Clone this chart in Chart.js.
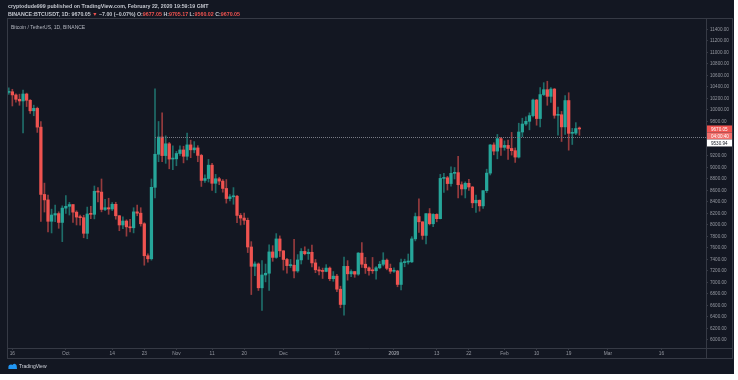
<!DOCTYPE html>
<html>
<head>
<meta charset="utf-8">
<script src="https://cdn.jsdelivr.net/npm/chart.js@4"></script>
<style>
  html, body { margin: 0; padding: 0; background: #ffffff; }
  #wrap { width: 738px; height: 380px; }
</style>
</head>
<body>
<div id="wrap"><canvas id="chart" width="738" height="380"></canvas></div>
<script>
// daily candles, BINANCE:BTCUSDT, 2019-09-15 .. 2020-02-22
const firstDay = "2019-09-15";
const totalDays = 196; // axis runs on to late March

const opens = [
  10306, 10317, 10262, 10186, 10157, 10278, 10169, 9986, 10028, 9702, 8531, 8436, 8064, 8173, 8198, 8044,
  8293, 8325, 8355, 8223, 8137, 8127, 7855, 8191, 8185, 8586, 8572, 8270, 8300, 8278, 8359, 8160, 8000, 8068, 7967, 7951, 8228, 8205, 8021, 7465, 7412, 8655, 9230, 9530, 9207, 9412, 9146,
  9150, 9243, 9305, 9195, 9393, 9307, 9340, 9210, 8775, 8808, 9040, 8725, 8804, 8763, 8635, 8460, 8490, 8500, 8166, 8120, 8081, 7617, 7281, 7322, 6907, 7130, 7160, 7531, 7436, 7757,
  7550, 7400, 7293, 7300, 7200, 7392, 7540, 7500, 7525, 7340, 7220, 7200, 7192, 7250, 7065, 7110, 6883, 6617, 7280, 7150, 7190, 7145, 7511, 7317, 7255, 7204, 7203, 7255, 7316, 7388, 7246,
  7195, 7200, 6965, 7345, 7355, 7358, 7758, 8146, 8055, 7818, 8197, 8021, 8184, 8110, 8810, 8821, 8720, 8898, 8910, 8700, 8627, 8725, 8660, 8385, 8430, 8332, 8597, 8902, 9392, 9285, 9502,
  9350, 9384, 9331, 9292, 9181, 9617, 9756, 9803, 9902, 10173, 9851, 10268, 10353, 10237, 10364, 9907, 9917, 9706, 10164, 9594, 9597, 9677.05
];
const highs = [
  10385, 10360, 10279, 10275, 10348, 10293, 10180, 10084, 10050, 9798, 8728, 8520, 8275, 8345, 8229, 8333,
  8512, 8393, 8355, 8247, 8174, 8169, 8311, 8325, 8678, 8650, 8800, 8445, 8465, 8390, 8395, 8165, 8142, 8090, 8100, 8300, 8346, 8300, 8040, 7500, 8800, 10370, 9800, 9950, 9550, 9435, 9375,
  9280, 9375, 9370, 9600, 9475, 9450, 9380, 9230, 8870, 9140, 9070, 8880, 8830, 8790, 8790, 8530, 8650, 8515, 8200, 8205, 8120, 7710, 7357, 7340, 7380, 7320, 7655, 7640, 7850, 7810,
  7555, 7420, 7400, 7750, 7485, 7590, 7620, 7580, 7650, 7400, 7270, 7250, 7310, 7270, 7190, 7140, 6935, 7440, 7380, 7220, 7190, 7520, 7695, 7436, 7271, 7435, 7275, 7365, 7518, 7409, 7320,
  7255, 7212, 7405, 7405, 7495, 7796, 8208, 8456, 8055, 8200, 8286, 8197, 8196, 8880, 8900, 8846, 9010, 9000, 9195, 8750, 8750, 8792, 8670, 8520, 8435, 8600, 8970, 9400, 9430, 9575, 9525,
  9463, 9475, 9610, 9340, 9770, 9857, 9880, 9950, 10190, 10185, 10390, 10475, 10500, 10390, 10375, 10050, 9975, 10250, 10300, 9680, 9780, 9705.17
];
const lows = [
  10272, 10070, 10135, 10082, 9600, 10060, 9940, 9900, 9610, 8060, 8225, 7880, 7861, 8057, 7942, 7710,
  8203, 8173, 8045, 8000, 7998, 7777, 7760, 8110, 8106, 8400, 8228, 8250, 8185, 8250, 8100, 7900, 7935, 7805, 7880, 7862, 8160, 7980, 7300, 7355, 7388, 8470, 9100, 9100, 9072, 8977, 8960,
  9030, 9210, 9080, 9132, 9170, 9255, 9100, 8670, 8740, 8747, 8600, 8560, 8700, 8570, 8380, 8420, 8360, 8040, 8000, 8010, 7520, 6790, 7117, 6860, 6515, 7010, 6860, 7368, 7420, 7450,
  7215, 7160, 7260, 7080, 7175, 7321, 7480, 7400, 7270, 7170, 7130, 7070, 7185, 7030, 7020, 6840, 6560, 6430, 7040, 7100, 7090, 7125, 7260, 7157, 7128, 7157, 7057, 7238, 7288, 7220, 7157,
  7175, 6925, 6871, 7273, 7319, 7346, 7723, 7871, 7750, 7672, 8000, 7970, 8055, 8105, 8565, 8607, 8675, 8800, 8470, 8520, 8470, 8600, 8300, 8220, 8240, 8290, 8563, 8870, 9220, 9150, 9210,
  9300, 9140, 9215, 9088, 9165, 9535, 9730, 9655, 9880, 9735, 9705, 10250, 10082, 10130, 9856, 9560, 9452, 9576, 9301, 9400, 9570, 9560.02
];
const closes = [
  10317, 10262, 10186, 10157, 10278, 10169, 9986, 10028, 9702, 8531, 8436, 8064, 8173, 8198, 8044, 8293,
  8325, 8355, 8223, 8137, 8127, 7855, 8191, 8185, 8586, 8572, 8270, 8300, 8278, 8359, 8160, 8000, 8068, 7967, 7951, 8228, 8205, 8021, 7465, 7412, 8655, 9230, 9530, 9207, 9412, 9146, 9150,
  9243, 9305, 9195, 9393, 9307, 9340, 9210, 8775, 8808, 9040, 8725, 8804, 8763, 8635, 8460, 8490, 8500, 8166, 8120, 8081, 7617, 7281, 7322, 6907, 7130, 7160, 7531, 7436, 7757, 7550,
  7400, 7293, 7300, 7200, 7392, 7540, 7500, 7525, 7340, 7220, 7200, 7192, 7250, 7065, 7110, 6883, 6617, 7280, 7150, 7190, 7145, 7511, 7317, 7255, 7204, 7203, 7255, 7316, 7388, 7246, 7195,
  7200, 6965, 7345, 7355, 7358, 7758, 8146, 8055, 7818, 8197, 8021, 8184, 8110, 8810, 8821, 8720, 8898, 8910, 8700, 8627, 8725, 8660, 8385, 8430, 8332, 8597, 8902, 9392, 9285, 9502, 9350,
  9384, 9331, 9292, 9181, 9617, 9756, 9803, 9902, 10173, 9851, 10268, 10353, 10237, 10364, 9907, 9917, 9706, 10164, 9594, 9597, 9677, 9670.05
];

const priceTicks = [6000, 6200, 6400, 6600, 6800, 7000, 7200, 7400, 7600, 7800, 8000, 8200, 8400, 8600,
  8800, 9000, 9200, 9800, 10000, 10200, 10400, 10600, 10800, 11000, 11200, 11400];

const timeTickDates = ["2019-09-16", "2019-10-01", "2019-10-14", "2019-10-23", "2019-11-01", "2019-11-11",
  "2019-11-20", "2019-12-01", "2019-12-16", "2020-01-01", "2020-01-13", "2020-01-22", "2020-02-01",
  "2020-02-10", "2020-02-19", "2020-03-01", "2020-03-16"];
const timeTickLabels = ["16", "Oct", "14", "23", "Nov", "11", "20", "Dec", "16", "2020", "13", "22", "Feb",
  "10", "19", "Mar", "16"];

const levelStart = "2019-10-26";
const levelPrice = 9530.94;
const lastPrice = 9670.05;
const countdown = "04:00:40";

const headerLine1 = "cryptodude999 published on TradingView.com, February 22, 2020 19:59:19 GMT";
const symbolTitle = "Bitcoin / TetherUS, 1D, BINANCE";

const UP = "#26a69a", DOWN = "#ef5350";
const UP_WICK = "rgba(38,166,154,0.6)", DOWN_WICK = "rgba(239,83,80,0.6)";
const BG = "#131722", LINE = "#363a45", TEXT = "#9598a1";
const FONT = "'Liberation Sans', Arial, sans-serif";

// day labels
const days = [];
const d0 = new Date(firstDay + "T00:00:00Z");
for (let i = 0; i < totalDays; i++) {
  const d = new Date(d0.getTime() + i * 86400000);
  days.push(d.toISOString().slice(0, 10));
}
const tickMap = {};
timeTickDates.forEach((d, i) => { tickMap[d] = timeTickLabels[i]; });

const bodies = [], wicks = [], bodyColors = [], wickColors = [];
for (let i = 0; i < totalDays; i++) {
  if (i < closes.length) {
    const o = opens[i], c = closes[i];
    bodies.push([Math.min(o, c), Math.max(o, c)]);
    wicks.push([lows[i], highs[i]]);
    bodyColors.push(c >= o ? UP : DOWN);
    wickColors.push(c >= o ? UP_WICK : DOWN_WICK);
  } else {
    bodies.push(null);
    wicks.push(null);
    bodyColors.push(UP);
    wickColors.push(UP_WICK);
  }
}

const frame = {
  id: "frame",
  beforeDraw(chart) {
    const ctx = chart.ctx;
    ctx.save();
    ctx.fillStyle = "#ffffff";
    ctx.fillRect(0, 0, chart.width, chart.height);
    ctx.fillStyle = BG;
    ctx.fillRect(0, 0, 734, 374);
    ctx.restore();
  },
  afterDatasetsDraw(chart) {
    const ctx = chart.ctx;
    const a = chart.chartArea;
    const x = chart.scales.x, y = chart.scales.y;
    ctx.save();
    // horizontal level
    const ly = Math.round(y.getPixelForValue(levelPrice)) + 0.5;
    ctx.strokeStyle = "#787b86";
    ctx.lineWidth = 1;
    ctx.setLineDash([1, 1]);
    ctx.beginPath();
    ctx.moveTo(x.getPixelForValue(days.indexOf(levelStart)), ly);
    ctx.lineTo(a.right, ly);
    ctx.stroke();
    ctx.setLineDash([]);
    ctx.restore();
  },
  afterDraw(chart) {
    const ctx = chart.ctx;
    const a = chart.chartArea;
    const y = chart.scales.y;
    ctx.save();
    // pane borders
    ctx.strokeStyle = LINE;
    ctx.lineWidth = 1;
    ctx.strokeRect(7.5, 18.5, 725, 340);
    ctx.beginPath();
    ctx.moveTo(a.right + 0.5, 18);
    ctx.lineTo(a.right + 0.5, 358);
    ctx.moveTo(7, a.bottom + 0.5);
    ctx.lineTo(732, a.bottom + 0.5);
    ctx.stroke();

    // header
    ctx.textBaseline = "middle";
    ctx.textAlign = "left";
    ctx.font = "bold 5.3px " + FONT;
    ctx.fillStyle = "#c3c6ce";
    ctx.fillText(headerLine1, 8, 7);
    const parts = [
      ["BINANCE:BTCUSDT, 1D: 9670.05 ", "#c3c6ce"], ["\u25BC", DOWN], [" \u22127.00 (\u22120.07%) O:", "#c3c6ce"],
      ["9677.05", DOWN], [" H:", "#c3c6ce"], ["9705.17", DOWN], [" L:", "#c3c6ce"], ["9560.02", DOWN],
      [" C:", "#c3c6ce"], ["9670.05", DOWN]
    ];
    let px = 8;
    for (const [t, c] of parts) {
      ctx.fillStyle = c;
      ctx.fillText(t, px, 15);
      px += ctx.measureText(t).width;
    }
    ctx.font = "5px " + FONT;
    ctx.fillStyle = "#b2b5be";
    ctx.fillText(symbolTitle, 11, 28);

    // price labels on axis (stacked so they do not overlap, as TradingView does)
    const p0 = y.getPixelForValue(lastPrice);
    const boxes = [
      [p0, lastPrice.toFixed(2), DOWN, "#ffffff"],
      [p0 + 7, countdown, "#f0706d", "#ffffff"],
      [p0 + 14, levelPrice.toFixed(2), "#ffffff", "#131722"]
    ];
    ctx.font = "4.6px " + FONT;
    for (const [cy, t, bg, fg] of boxes) {
      ctx.fillStyle = bg;
      ctx.fillRect(a.right + 1, cy - 3.5, 25, 7);
      ctx.fillStyle = fg;
      ctx.fillText(t, a.right + 5, cy + 0.3);
    }

    // logo
    ctx.fillStyle = "#2196f3";
    ctx.beginPath();
    ctx.arc(11, 367, 2.6, Math.PI, 0);
    ctx.arc(14.5, 366, 2.2, Math.PI * 1.1, 0);
    ctx.lineTo(17, 369);
    ctx.lineTo(8.4, 369);
    ctx.closePath();
    ctx.fill();
    ctx.font = "5px " + FONT;
    ctx.fillStyle = "#d1d4dc";
    ctx.fillText("TradingView", 19, 366.5);
    ctx.restore();
  }
};

new Chart(document.getElementById("chart"), {
  type: "bar",
  data: {
    labels: days,
    datasets: [
      {
        label: "body",
        data: bodies,
        backgroundColor: bodyColors,
        barThickness: 2.6,
        minBarLength: 1,
        grouped: false
      },
      {
        label: "wick",
        data: wicks,
        backgroundColor: wickColors,
        barThickness: 1,
        grouped: false
      }
    ]
  },
  options: {
    responsive: false,
    animation: false,
    events: [],
    layout: { padding: { left: 7, top: 18, right: 6, bottom: 22 } },
    plugins: { legend: { display: false }, tooltip: { enabled: false } },
    scales: {
      x: {
        type: "category",
        offset: true,
        afterFit: (s) => { s.height = 10; },
        border: { display: false },
        grid: { display: true, offset: false, drawOnChartArea: false, drawTicks: true, tickLength: 2, color: LINE },
        ticks: {
          autoSkip: false,
          maxRotation: 0,
          padding: 1,
          color: TEXT,
          font: (c) => ({ family: FONT, size: 4.8, weight: c.tick && c.tick.label === "2020" ? "bold" : "normal" }),
          callback: function (value) {
            const lbl = tickMap[this.getLabelForValue(value)];
            return lbl === undefined ? null : lbl;
          }
        }
      },
      y: {
        position: "right",
        min: 5860,
        max: 11600,
        afterFit: (s) => { s.width = 26; },
        afterBuildTicks: (s) => { s.ticks = priceTicks.map((v) => ({ value: v })); },
        border: { display: false },
        grid: { display: true, drawOnChartArea: false, drawTicks: true, tickLength: 2, color: LINE },
        ticks: {
          padding: 2,
          color: TEXT,
          font: { family: FONT, size: 4.6 },
          callback: (v) => Number(v).toFixed(2)
        }
      }
    }
  },
  plugins: [frame]
});
</script>
</body>
</html>
